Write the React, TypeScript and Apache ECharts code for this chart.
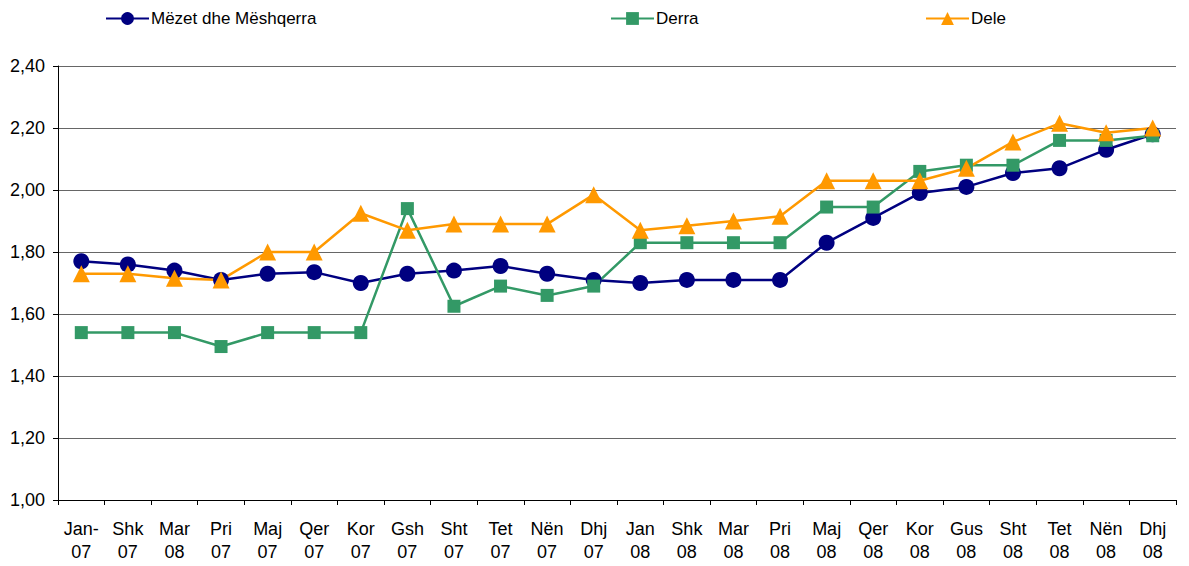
import React, { useEffect, useRef } from "react";
import * as echarts from "echarts";

const categories = [
  "Jan-\n07", "Shk\n07", "Mar\n08", "Pri\n07", "Maj\n07", "Qer\n07", "Kor\n07", "Gsh\n07",
  "Sht\n07", "Tet\n07", "Nën\n07", "Dhj\n07", "Jan\n08", "Shk\n08", "Mar\n08", "Pri\n08",
  "Maj\n08", "Qer\n08", "Kor\n08", "Gus\n08", "Sht\n08", "Tet\n08", "Nën\n08", "Dhj\n08",
];

const mezet = [
  1.77, 1.76, 1.74, 1.71, 1.73, 1.735, 1.70, 1.73, 1.74, 1.755, 1.73, 1.71,
  1.70, 1.71, 1.71, 1.71, 1.83, 1.91, 1.99, 2.01, 2.055, 2.07, 2.13, 2.18,
];
const derra = [
  1.54, 1.54, 1.54, 1.495, 1.54, 1.54, 1.54, 1.94, 1.625, 1.69, 1.66, 1.69,
  1.83, 1.83, 1.83, 1.83, 1.945, 1.945, 2.06, 2.08, 2.08, 2.16, 2.16, 2.175,
];
const dele = [
  1.73, 1.73, 1.715, 1.71, 1.80, 1.80, 1.925, 1.87, 1.89, 1.89, 1.89, 1.985,
  1.87, 1.885, 1.90, 1.915, 2.03, 2.03, 2.03, 2.07, 2.155, 2.215, 2.185, 2.20,
];

const FONT = "'Liberation Sans', Arial, sans-serif";

export default function App() {
  const ref = useRef<HTMLDivElement>(null);
  useEffect(() => {
    if (!ref.current) return;
    const chart = echarts.init(ref.current, undefined, { renderer: "svg" });
    const legendText = { color: "#000", fontSize: 17, fontFamily: FONT, padding: [0, 0, 0, -3] };
    chart.setOption({
      animation: false,
      textStyle: { fontFamily: FONT },
      legend: [
        { data: ["Mëzet dhe Mëshqerra"], left: 100, top: 5, itemWidth: 43, itemHeight: 16, textStyle: legendText },
        { data: ["Derra"], left: 605, top: 5, itemWidth: 43, itemHeight: 16, textStyle: legendText },
        { data: ["Dele"], left: 920, top: 5, itemWidth: 43, itemHeight: 16, textStyle: legendText },
      ],
      grid: { left: 58, right: 13, top: 66, bottom: 66 },
      xAxis: {
        type: "category",
        data: categories,
        boundaryGap: true,
        axisLine: { lineStyle: { color: "#000", width: 1 } },
        axisTick: { show: true, length: 5, lineStyle: { color: "#000" } },
        axisLabel: { color: "#000", fontSize: 18, lineHeight: 23, margin: 17, interval: 0, fontFamily: FONT },
      },
      yAxis: {
        type: "value",
        min: 1,
        max: 2.4,
        interval: 0.2,
        axisLine: { show: true, lineStyle: { color: "#000", width: 1 } },
        axisTick: { show: true, length: 5, lineStyle: { color: "#000" } },
        splitLine: { lineStyle: { color: "#666", width: 1 } },
        axisLabel: {
          color: "#000",
          fontSize: 18,
          margin: 13,
          fontFamily: FONT,
          formatter: (v: number) => v.toFixed(2).replace(".", ","),
        },
      },
      series: [
        {
          name: "Mëzet dhe Mëshqerra",
          type: "line",
          data: mezet,
          symbol: "circle",
          symbolSize: 16,
          itemStyle: { color: "#000080" },
          lineStyle: { color: "#000080", width: 2.5 },
        },
        {
          name: "Derra",
          type: "line",
          data: derra,
          symbol: "rect",
          symbolSize: 13,
          itemStyle: { color: "#339966" },
          lineStyle: { color: "#339966", width: 2.5 },
        },
        {
          name: "Dele",
          type: "line",
          data: dele,
          symbol: "triangle",
          symbolSize: 17,
          itemStyle: { color: "#FF9900" },
          lineStyle: { color: "#FF9900", width: 2.5 },
        },
      ],
    });
    return () => chart.dispose();
  }, []);
  return <div ref={ref} style={{ width: 1189, height: 566, position: "absolute", left: 0, top: 0 }} />;
}
